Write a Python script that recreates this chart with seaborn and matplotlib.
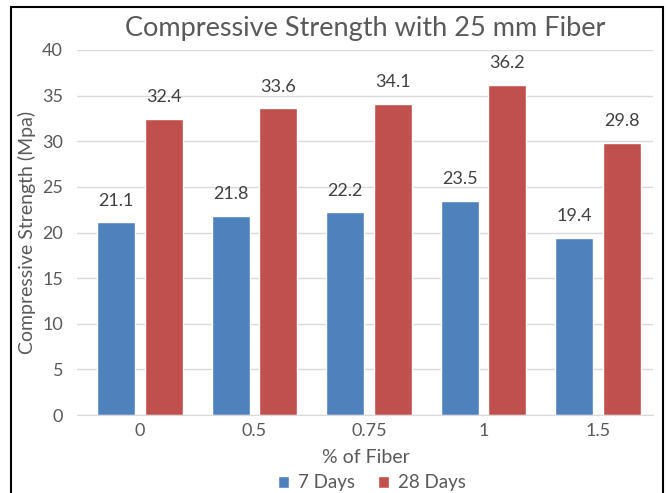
"""
Compressive strength bar chart (25 mm fiber)
"""
import pandas as pd
import numpy as np
import matplotlib.pyplot as plt
import seaborn as sns
from matplotlib.patches import Rectangle

# データ
fiber = ['0', '0.5', '0.75', '1', '1.5']
days7 = [21.1, 21.8, 22.2, 23.5, 19.4]
days28 = [32.4, 33.6, 34.1, 36.2, 29.8]

df = pd.DataFrame({
    'fiber': fiber * 2,
    'value': days7 + days28,
    'age': ['7 Days'] * len(fiber) + ['28 Days'] * len(fiber),
})

sns.set_style('white')
plt.rcParams['font.family'] = ['Lato', 'DejaVu Sans']
text_color = '#595959'

W, H = 668, 493
fig = plt.figure(figsize=(W / 100, H / 100), dpi=100)
# プロット領域 (ピクセルから換算)
ax = fig.add_axes([77 / W, 1 - 415 / H, 576 / W, 365 / H])

sns.barplot(data=df, x='fiber', y='value', hue='age', order=fiber,
            hue_order=['7 Days', '28 Days'],
            palette=['#4f81bd', '#c0504d'], width=0.83, gap=0.2,
            ax=ax, legend=True, saturation=1)

# データラベル
for container in ax.containers:
    ax.bar_label(container, fmt='%.1f', padding=10, fontsize=13, color='#404040')

ax.set_xlim(-0.55, 4.48)
ax.set_ylim(0, 40)
ax.set_yticks(np.arange(0, 41, 5))
ax.yaxis.grid(True, color='#d9d9d9', linewidth=1)
ax.set_axisbelow(True)
for side in ['top', 'right', 'left']:
    ax.spines[side].set_visible(False)
ax.spines['bottom'].set_color('#d9d9d9')
ax.tick_params(axis='both', length=0, labelsize=13, colors=text_color)
ax.tick_params(axis='y', pad=10)
ax.tick_params(axis='x', pad=6)

ax.set_xlabel('% of Fiber', fontsize=14, color=text_color)
ax.xaxis.set_label_coords(0.502, -0.092)
ax.set_ylabel('Compressive Strength (Mpa)', fontsize=14, color=text_color)
ax.yaxis.set_label_coords(-0.071, 0.5)
ax.set_title('Compressive Strength with 25 mm Fiber', fontsize=19.5,
             color=text_color, pad=10)

ax.legend(loc='center', bbox_to_anchor=(0.512, -0.186), ncol=2, frameon=False,
          fontsize=13.5, handlelength=0.6, handleheight=0.6, columnspacing=1.2,
          handletextpad=0.5, labelcolor=text_color)

# 外枠
fig.patches.append(Rectangle((11 / W, -0.05), 652 / W, 1.05 - 7 / H,
                             transform=fig.transFigure, fill=False,
                             edgecolor='black', linewidth=1.5))

plt.savefig('out.png', dpi=100)
